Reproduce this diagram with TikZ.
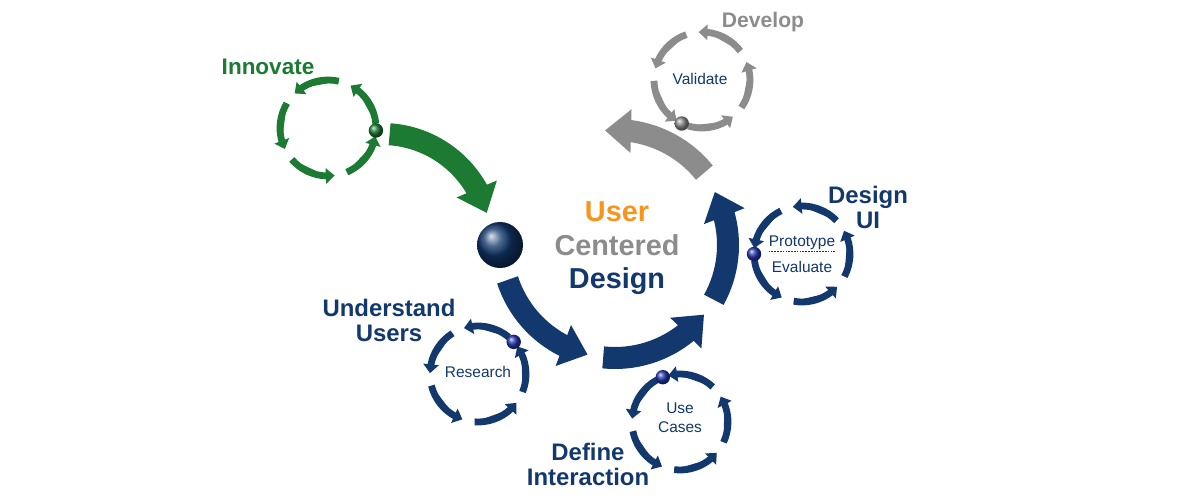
\documentclass[tikz,border=0pt]{standalone}
\usepackage{fontspec}
\setmainfont{Liberation Sans}
\usetikzlibrary{arrows.meta,bending,calc}

\definecolor{ucdnavy}{HTML}{12386E}
\definecolor{innovgreen}{HTML}{1C7A32}
\definecolor{devgray}{HTML}{8C8C8C}
\definecolor{ucdorange}{HTML}{F7941D}
\definecolor{beadblue}{HTML}{2436B0}

\begin{document}
\begin{tikzpicture}[x=0.025cm,y=0.025cm,
    bigarrow/.style={line width=0.55cm,-{Triangle[length=0.65cm,width=1.05cm]}},
    ringseg/.style={line width=0.17cm,-{Triangle[length=0.22cm,width=0.38cm]}},
    steplabel/.style={font=\bfseries\fontsize{17}{17.8}\selectfont,text=ucdnavy,align=center},
    ringtext/.style={font=\fontsize{11}{13.5}\selectfont,text=ucdnavy,align=center},
    bead/.style={circle,inner sep=0pt,minimum size=0.36cm}]
  \useasboundingbox[fill=white] (0,0) rectangle (1200,500);

  % centres of the main cycle and of the small cycles
  \coordinate (hub) at (615,255);
  \coordinate (swing) at (382,257);
  \coordinate (innov) at (328,372);
  \coordinate (valid) at (702,420);
  \coordinate (dui) at (802,246);
  \coordinate (research) at (478,126);
  \coordinate (usecase) at (680,78);

  % main cycle
  \draw[bigarrow,ucdnavy] (hub) ++(198:113) arc[start angle=198,end angle=256,radius=113];
  \draw[bigarrow,ucdnavy] (hub) ++(264:113) arc[start angle=264,end angle=322,radius=113];
  \draw[bigarrow,ucdnavy] (hub) ++(331:113) arc[start angle=331,end angle=388,radius=113];
  \draw[bigarrow,devgray] (hub) ++(39:115) arc[start angle=39,end angle=95,radius=115];
  \draw[bigarrow,innovgreen] (swing) ++(86:109) arc[start angle=86,end angle=16,radius=109];

  % small cycles, five arrows each, bead in the gap
  \foreach \c/\s/\col in {innov/-3/innovgreen,valid/245/devgray,dui/180/ucdnavy,
                          research/42/ucdnavy,usecase/111/ucdnavy}{
    \foreach \k in {0,...,4}{
      \draw[ringseg,draw=\col,fill=\col] (\c) ++(\s+8+72*\k:48)
        arc[start angle=\s+8+72*\k,delta angle=57,radius=48];}
  }

  \node[bead,ball color=innovgreen] (innovbead) at ($(innov)+(-3:48)$) {};
  \node[bead,ball color=devgray] (validbead) at ($(valid)+(245:48)$) {};
  \node[bead,ball color=beadblue] (duibead) at ($(dui)+(180:48)$) {};
  \node[bead,ball color=beadblue] (researchbead) at ($(research)+(42:48)$) {};
  \node[bead,ball color=beadblue] (usecasebead) at ($(usecase)+(111:48)$) {};
  \node[circle,inner sep=0pt,minimum size=1.15cm,ball color=ucdnavy] (hubball) at (500,255) {};

  % texts inside the small cycles
  \node[ringtext] (validtxt) at (700,421) {Validate};
  \node[ringtext,inner xsep=0pt,inner ysep=1pt] (prototxt) at (802,257) {Prototype};
  \node[ringtext] (evaltxt) at (802,233) {Evaluate};
  \draw[ucdnavy,thin,dash pattern=on 1.2pt off 0.8pt] (prototxt.south west) -- (prototxt.south east);
  \node[ringtext] (researchtxt) at (478,128) {Research};
  \node[ringtext] (usecasetxt) at (680,82) {Use\\Cases};

  % step labels
  \node[steplabel,text=innovgreen,font=\bfseries\fontsize{16}{17}\selectfont] (innovlbl) at (268,433) {Innovate};
  \node[steplabel,text=devgray,font=\bfseries\fontsize{15}{16}\selectfont] (devlbl) at (763,478) {Develop};
  \node[steplabel] (duilbl) at (868,293) {Design\\UI};
  \node[steplabel] (userslbl) at (389,180) {Understand\\Users};
  \node[steplabel] (interlbl) at (588,36) {Define\\Interaction};

  % centre title
  \node[anchor=base,font=\bfseries\fontsize{20.5}{22}\selectfont,text=ucdorange] (titleuser) at (617,278) {User};
  \node[anchor=base,font=\bfseries\fontsize{20.5}{22}\selectfont,text=devgray] (titlecentered) at (617,244) {Centered};
  \node[anchor=base,font=\bfseries\fontsize{20.5}{22}\selectfont,text=ucdnavy] (titledesign) at (617,211) {Design};
\end{tikzpicture}
\end{document}
